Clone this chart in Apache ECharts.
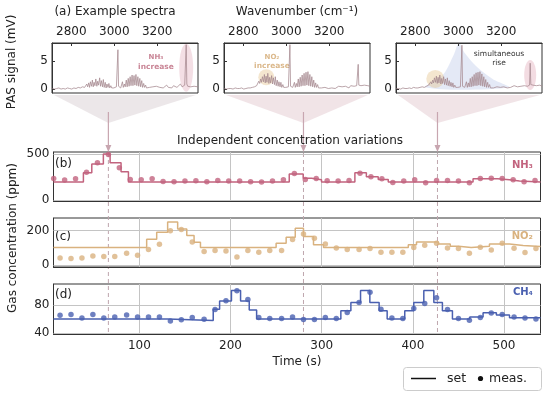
<!DOCTYPE html>
<html><head><meta charset="utf-8">
<script src="https://cdn.jsdelivr.net/npm/echarts@6/dist/echarts.min.js"></script>
<style>html,body{margin:0;padding:0;background:#fff}#c{width:550px;height:397px}</style>
</head><body><div id="c"></div>
<script>
// ---------- spectra (insets) ----------
const wn = [2712,2722,2732,2742,2752,2762,2772,2782,2792,2802,2812,2822,2832,2842,2852,2862,
 2868,2872,2876,2881,2885,2889,2894,2898,2902,2906,2910,2914,2919,2923,2927,2932,2936,2940,2945,2949,2953,2958,2962,2966,2971,2975,2979,2984,2988,2992,
 2998,3004,3010,3014,3017,3020,3024,3030,
 3034,3038,3042,3047,3051,3056,3060,3065,3069,3074,3078,3083,3087,3092,3096,3101,3105,3110,3114,3119,3123,3128,3132,3137,3141,3146,3150,3156,
 3164,3172,3180,3188,3196,3204,3212,3220,3228,3236,3244,3252,3260,3268,3276,3284,3292,3300,3308,3316,3322,3328,
 3332,3335,3338,
 3342,3348,3356,3364,3372,3380,3390];
const specNH3 = [0.1,0.0,0.1,0.2,0.0,0.1,0.0,0.2,0.1,0.0,0.2,0.1,0.3,0.2,0.4,0.3,
 0.3,0.9,0.4,1.1,0.3,1.3,0.5,1.6,0.4,1.2,0.6,1.8,0.5,1.4,0.7,2.0,0.5,1.5,0.4,1.7,0.3,1.2,0.2,0.9,0.3,1.0,0.2,0.6,0.2,0.3,
 0.2,0.3,0.4,0.5,7.0,0.5,0.3,0.2,
 0.3,1.3,0.3,0.9,0.4,1.6,0.4,1.9,0.5,2.2,0.6,2.5,0.6,2.4,0.7,2.6,0.6,2.2,0.5,1.9,0.4,1.5,0.3,1.0,0.3,0.7,0.2,0.5,
 0.3,0.1,0.4,0.2,0.5,0.2,0.3,0.6,0.2,0.4,0.7,0.3,0.5,0.2,0.6,0.8,0.3,0.5,0.9,0.4,0.6,0.7,
 0.8,7.9,0.9,
 0.5,0.8,0.4,0.7,0.5,0.6,0.4];
const specNO2 = [0.1,0.0,0.1,0.1,0.0,0.2,0.1,0.1,0.2,0.0,0.1,0.2,0.2,0.3,0.4,0.6,
 0.8,1.4,1.0,1.8,1.2,2.2,1.3,2.6,1.1,2.3,1.2,2.8,1.0,2.1,1.1,2.4,0.9,2.0,0.8,2.2,0.6,1.6,0.5,1.3,0.4,1.2,0.3,0.8,0.3,0.4,
 0.3,0.3,0.4,0.5,7.9,0.5,0.3,0.3,
 0.3,1.2,0.3,1.0,0.4,1.8,0.4,2.1,0.5,2.5,0.6,2.8,0.6,3.0,0.7,3.1,0.6,2.6,0.5,2.2,0.4,1.6,0.3,1.1,0.3,0.8,0.2,0.5,
 0.2,0.1,0.3,0.2,0.1,0.3,0.2,0.4,0.1,0.3,0.5,0.2,0.4,0.1,0.5,0.3,0.2,0.6,0.3,0.5,0.4,0.6,
 0.6,4.4,0.7,
 0.4,0.6,0.3,0.7,0.4,0.6,0.5];
const specAll = [0.1,0.1,0.0,0.2,0.1,0.1,0.2,0.1,0.3,0.2,0.2,0.3,0.4,0.3,0.5,0.7,
 0.8,1.3,0.9,1.6,1.1,2.0,1.2,2.3,1.0,2.1,1.1,2.5,0.9,1.9,1.0,2.2,0.8,1.8,0.7,2.0,0.6,1.5,0.5,1.2,0.4,1.1,0.3,0.7,0.3,0.4,
 0.3,0.3,0.4,0.5,7.8,0.5,0.3,0.3,
 0.3,1.3,0.3,1.1,0.4,1.9,0.4,2.2,0.5,2.6,0.6,2.9,0.6,3.0,0.7,3.1,0.6,2.7,0.5,2.2,0.4,1.7,0.3,1.2,0.3,0.8,0.2,0.5,
 0.2,0.1,0.4,0.2,0.3,0.1,0.4,0.3,0.2,0.5,0.3,0.2,0.6,0.3,0.4,0.2,0.5,0.3,0.6,0.4,0.5,0.6,
 0.7,4.6,0.8,
 0.5,0.7,0.4,0.6,0.5,0.7,0.5];
const specTicks = [2800,3000,3200];
const specYTicks = [0,5];

// ---------- time series ----------
const tB = [6,18,30,42,54,66,78,90,102,114,126,138,150,162,174,186,198,210,222,234,246,258,270,282,294,306,318,330,342,354,366,378,390,402,414,426,438,450,462,474,486,498,510,522,534];
const nh3Meas = [234,216,230,302,403,493,349,223,219,230,201,198,205,209,198,212,205,205,198,194,205,219,288,223,234,209,205,212,291,252,230,191,205,219,187,212,212,205,187,234,237,234,219,198,212];
const tCD = [13,25,37,49,61,73,86,98,110,122,134,146,158,171,183,195,207,219,231,243,256,268,280,292,304,316,328,341,353,365,377,389,401,413,426,438,450,462,474,486,498,511,523,535];
const no2Meas = [39,37,39,52,49,49,68,56,89,120,200,206,134,78,84,80,45,84,74,84,84,148,181,155,122,99,89,89,95,74,74,74,101,115,126,99,95,68,103,87,126,97,72,95];
const ch4Meas = [65.5,66.5,61.7,66.5,61.7,63.1,66,63.1,63.1,63.1,57.4,59,62.2,59.8,73.7,86.3,100.7,88.2,62.2,60.7,60.7,63.1,59.3,59.3,62.2,60.7,69.4,83.9,98.8,74.2,61.7,60.7,75.2,82.4,90.6,73.7,60.7,58.3,62.2,68.9,66.5,63.1,61.7,60.2];

const nh3SetT = [5.8,38.6,47.8,60.5,67.9,79.9,88,264.4,279.7,288.9,299.8,336.4,349,362,373,466,493,506,517,540];
const nh3SetV = [194,295,392,500,403,306,194,281,237,219,194,295,252,223,194,230,219,205,194,194];
const no2SetT = [5.8,108,119,131,142,152,160,167,250,261,271,280,291,302,395,404,428,441,450,464,484,506,521,540];
const no2SetV = [101,150,191,251,210,171,132,101,126,161,214,165,117,101,117,134,122,109,101,109,122,113,107,107];
const ch4SetT = [5.8,131,181,188,201,211,220.5,228.6,321,332,342.6,352.8,363,371.8,391.1,401,412,423,432.4,443.4,462.4,477,491.6,506,540];
const ch4SetV = [60,58,74,86,101,86,73,60,72,84,101,84,72,60,72,84,101,84,72,60,63,69,66,62,62];

const timeTicks = [100,200,300,400,500];
const nh3Ticks = [0,500], no2Ticks = [0,200], ch4Ticks = [40,80];
const markTimes = [66,280,427];

const C_NH3 = '#c2637e', C_NO2 = '#d9b27f', C_CH4 = '#4a60b0', C_SPEC = '#a4878e';
const FONT = 'DejaVu Sans';

const chart = echarts.init(document.getElementById('c'));

const insetLefts = [52,224,396];
const grids = insetLefts.map(l => ({left:l, top:43, width:146, height:50, show:true, borderColor:'#333', borderWidth:1}))
 .concat([
  {left:53.5, top:152, width:487, height:49, show:true, borderColor:'#333', borderWidth:1},
  {left:53.5, top:218, width:487, height:49, show:true, borderColor:'#333', borderWidth:1},
  {left:53.5, top:284, width:487, height:50, show:true, borderColor:'#333', borderWidth:1}
 ]);

const fmt = v => String(v);
const lbl = {fontFamily:FONT, fontSize:12, color:'#222', formatter:fmt};
const xAxes = [], yAxes = [];
for (let i = 0; i < 3; i++) {
  xAxes.push({gridIndex:i, type:'value', min:2710, max:3390, position:'top',
    axisLine:{show:true, onZero:false, lineStyle:{color:'#333'}},
    axisTick:{show:true, inside:true, length:3, customValues:specTicks, lineStyle:{color:'#333'}},
    axisLabel:Object.assign({customValues:specTicks, margin:5}, lbl), splitLine:{show:false}});
  yAxes.push({gridIndex:i, type:'value', min:-0.7, max:8.2,
    axisLine:{show:true, onZero:false, lineStyle:{color:'#333'}},
    axisTick:{show:true, inside:true, length:3, customValues:specYTicks, lineStyle:{color:'#333'}},
    axisLabel:Object.assign({customValues:specYTicks, margin:4}, lbl), splitLine:{show:false}});
}
const yRanges = [[-11,521,nh3Ticks],[-13,274,no2Ticks],[38.5,110.5,ch4Ticks]];
for (let k = 0; k < 3; k++) {
  xAxes.push({gridIndex:3+k, type:'value', min:5.8, max:540,
    axisLine:{show:true, onZero:false, lineStyle:{color:'#333'}},
    axisTick:{show:true, inside:true, length:3, customValues:timeTicks, lineStyle:{color:'#333'}},
    axisLabel:Object.assign({show:k===2, customValues:timeTicks, margin:6}, lbl), splitLine:{show:false}});
  yAxes.push({gridIndex:3+k, type:'value', min:yRanges[k][0], max:yRanges[k][1],
    axisLine:{show:true, onZero:false, lineStyle:{color:'#333'}},
    axisTick:{show:true, inside:true, length:3, customValues:yRanges[k][2], lineStyle:{color:'#333'}},
    axisLabel:Object.assign({customValues:yRanges[k][2], margin:4}, lbl), splitLine:{show:false}});
}

const specs = [specNH3, specNO2, specAll];
const series = specs.map((s,i) => ({type:'line', xAxisIndex:i, yAxisIndex:i, showSymbol:false, silent:true,
  data: wn.map((w,j) => [w, s[j]]), lineStyle:{color:C_SPEC, width:0.75}}));

const panels = [
  {t:nh3SetT, v:nh3SetV, mt:tB, mv:nh3Meas, c:C_NH3, yt:nh3Ticks},
  {t:no2SetT, v:no2SetV, mt:tCD, mv:no2Meas, c:C_NO2, yt:no2Ticks},
  {t:ch4SetT, v:ch4SetV, mt:tCD, mv:ch4Meas, c:C_CH4, yt:ch4Ticks}
];
panels.forEach((p,k) => {
  series.push({type:'line', xAxisIndex:3+k, yAxisIndex:3+k, step:'end', showSymbol:false, silent:true, z:3,
    data:p.t.map((t,j)=>[t,p.v[j]]), lineStyle:{color:p.c, width:1.5},
    markLine:{silent:true, symbol:'none', z:1, label:{show:false}, animation:false,
      lineStyle:{color:'#c4c4c4', width:1, type:'solid'},
      data: timeTicks.map(v=>({xAxis:v})).concat(p.yt.map(v=>({yAxis:v})))}});
  series.push({type:'scatter', xAxisIndex:3+k, yAxisIndex:3+k, symbolSize:5.5, silent:true, z:4,
    data:p.mt.map((t,j)=>[t,p.mv[j]]), itemStyle:{color:p.c}});
});

chart.setOption({animation:false, textStyle:{fontFamily:FONT}, grid:grids, xAxis:xAxes, yAxis:yAxes, series:series});

// ---------- decorations ----------
const P = (g, pt) => chart.convertToPixel({gridIndex:g}, pt);
const G = [];
const txt = (text, x, y, font, fill, align, extra) => G.push(Object.assign({type:'text', x:x, y:y,
  style:{text:text, font:font, fill:fill, textAlign:align||'center', textVerticalAlign:'middle'}}, extra||{}));

// highlight shapes in insets
const blue = [[2850,0.3],[2930,2.6],[2980,6.2],[3003,8.1],[3030,6.4],[3085,4.0],[3160,1.8],[3235,0.3]].map(p=>P(2,p));
G.push({type:'polygon', shape:{points:blue, smooth:0.35}, style:{fill:'rgba(170,188,228,0.32)'}});
let e = P(0,[3335,3.8]); G.push({type:'ellipse', shape:{cx:e[0], cy:e[1], rx:7, ry:24}, style:{fill:'rgba(214,140,160,0.28)'}});
e = P(2,[3335,2.5]); G.push({type:'ellipse', shape:{cx:e[0], cy:e[1], rx:6, ry:15}, style:{fill:'rgba(214,140,160,0.3)'}});
e = P(1,[2907,2.1]); G.push({type:'circle', shape:{cx:e[0], cy:e[1], r:8}, style:{fill:'rgba(225,188,128,0.38)'}});
e = P(2,[2893,1.8]); G.push({type:'circle', shape:{cx:e[0], cy:e[1], r:9}, style:{fill:'rgba(225,188,128,0.38)'}});

// funnels, arrows, dashed lines
const mx = markTimes.map(t => P(5,[t,60])[0]);
mx.forEach((x,i) => {
  const l = insetLefts[i];
  G.push({type:'polygon', shape:{points:[[l+2,95],[l+144,95],[x,123]]},
    style:{fill: i===0 ? 'rgba(195,180,186,0.32)' : 'rgba(210,165,176,0.3)'}});
  G.push({type:'line', shape:{x1:x, y1:112, x2:x, y2:147}, style:{stroke:'#c8a6b0', lineWidth:1.2}});
  G.push({type:'polygon', shape:{points:[[x-3,145],[x+3,145],[x,152]]}, style:{fill:'#c8a6b0'}});
  G.push({type:'line', shape:{x1:x, y1:153, x2:x, y2:334}, style:{stroke:'#bfa6ad', lineWidth:1, lineDash:[4,3]}});
});

// titles
txt('(a) Example spectra', 115, 12, '12px '+FONT, '#222');
txt('Wavenumber (cm⁻¹)', 297, 12, '12px '+FONT, '#222');
txt('PAS signal (mV)', 12, 62, '12px '+FONT, '#222', 'center', {rotation:Math.PI/2});
txt('Gas concentration (ppm)', 13, 238, '12px '+FONT, '#222', 'center', {rotation:Math.PI/2});
txt('Independent concentration variations', 290, 141, '12px '+FONT, '#222');
txt('Time (s)', 297, 362, '12px '+FONT, '#222');

// inset annotations
txt('NH₃', 156, 57, 'bold 7px '+FONT, '#c98596');
txt('increase', 156, 67, 'bold 7.5px '+FONT, '#c98596');
txt('NO₂', 272, 57, 'bold 7px '+FONT, '#dbb88b');
txt('increase', 272, 66, 'bold 7.5px '+FONT, '#dbb88b');
txt('simultaneous', 499, 54, '7.5px '+FONT, '#333');
txt('rise', 499, 63, '7.5px '+FONT, '#333');

// panel labels
txt('(b)', 55, 164, '12px '+FONT, '#222', 'left');
txt('(c)', 55, 237, '12px '+FONT, '#222', 'left');
txt('(d)', 55, 295, '12px '+FONT, '#222', 'left');
txt('NH₃', 533, 165, 'bold 10px '+FONT, C_NH3, 'right');
txt('NO₂', 533, 236, 'bold 10px '+FONT, C_NO2, 'right');
txt('CH₄', 533, 292, 'bold 10px '+FONT, C_CH4, 'right');

// legend
G.push({type:'rect', shape:{x:403.5, y:367.5, width:138, height:23, r:3}, style:{fill:'#fff', stroke:'#cccccc', lineWidth:1}});
G.push({type:'line', shape:{x1:411, y1:378.5, x2:436, y2:378.5}, style:{stroke:'#111', lineWidth:1.5}});
txt('set', 447, 378.5, '12.5px '+FONT, '#222', 'left');
G.push({type:'circle', shape:{cx:480.5, cy:378.5, r:2.6}, style:{fill:'#111'}});
txt('meas.', 489, 378.5, '12.5px '+FONT, '#222', 'left');

chart.setOption({graphic:{elements:G}});
</script></body></html>
